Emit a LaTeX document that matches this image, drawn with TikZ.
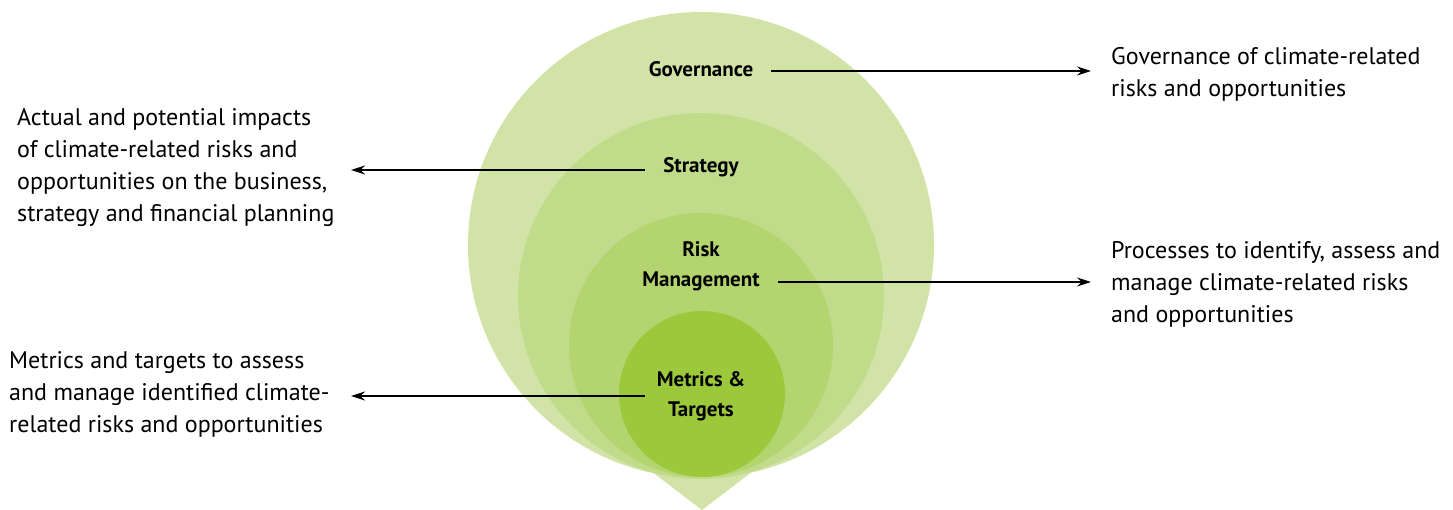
\documentclass[tikz,border=0pt]{standalone}
\usepackage{fontspec}
\setmainfont{PT Sans}
\usetikzlibrary{arrows.meta}
\definecolor{gA}{RGB}{209,227,167}
\definecolor{gB}{RGB}{192,219,138}
\definecolor{gC}{RGB}{179,212,111}
\definecolor{gD}{RGB}{156,200,60}
\tikzset{
  ring/.style={fill=#1, draw=none},
  lbl/.style={font=\bfseries\fontsize{21}{30}\selectfont, align=center, inner sep=0pt},
  desc/.style={font=\fontsize{24}{32}\selectfont, align=left, inner sep=0pt},
  conn/.style={line width=1.1pt, -{Stealth[length=14pt,width=9pt]}}
}
\begin{document}
\begin{tikzpicture}[x=1pt,y=-1pt]
\useasboundingbox (0,0) rectangle (1453,510);
% pin
\fill[gA] (647,468) -- (757,468) -- (702,510) -- cycle;
% circles
\fill[ring=gA] (701,245) circle (233);
\fill[ring=gB] (701,296) circle (183);
\fill[ring=gC] (701,345) circle (132);
\fill[ring=gD] (702,394) circle (83);
% labels
\node[lbl] (gov) at (701,69) {Governance};
\node[lbl] (str) at (701,167) {Strategy};
\node[lbl] (risk) at (701,266) {Risk\\Management};
\node[lbl] (met) at (701,396) {Metrics \&\\Targets};
% descriptions
\node[desc, anchor=north west] (govd) at (1111,47) {Governance of climate-related\\risks and opportunities};
\node[desc, anchor=north west] (strd) at (17,108) {Actual and potential impacts\\of climate-related risks and\\opportunities on the business,\\strategy and financial planning};
\node[desc, anchor=north west] (riskd) at (1111,241) {Processes to identify, assess and\\manage climate-related risks\\and opportunities};
\node[desc, anchor=north west] (metd) at (9,351) {Metrics and targets to assess\\and manage identified climate-\\related risks and opportunities};
% connector end points
\coordinate (g0) at (771,71);
\coordinate (g1) at (1091,71);
\coordinate (s0) at (645,170);
\coordinate (s1) at (351,170);
\coordinate (r0) at (778,282);
\coordinate (r1) at (1091,282);
\coordinate (m0) at (645,396);
\coordinate (m1) at (351,396);
\draw[conn] (g0) -- (g1);
\draw[conn] (s0) -- (s1);
\draw[conn] (r0) -- (r1);
\draw[conn] (m0) -- (m1);
\end{tikzpicture}
\end{document}
